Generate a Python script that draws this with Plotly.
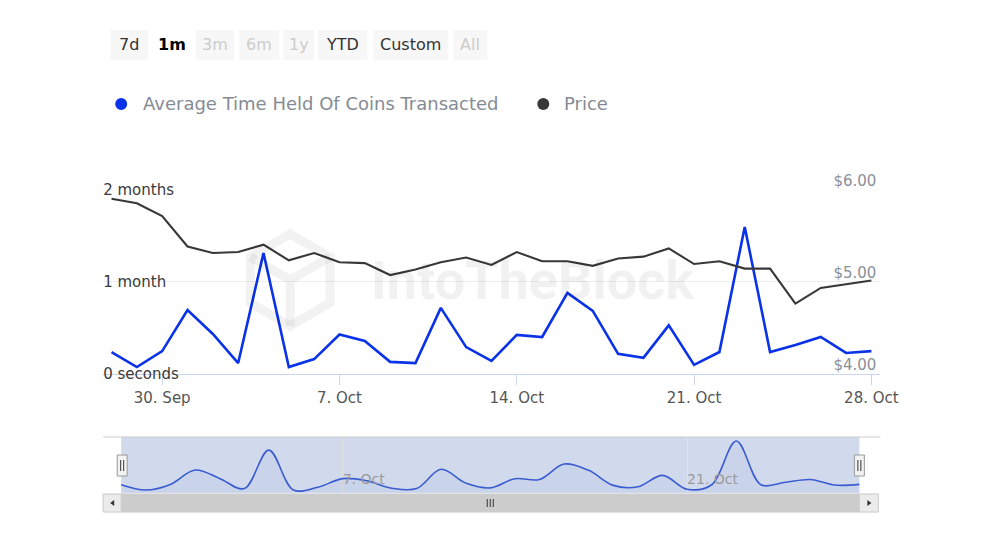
import math
import pandas as pd
import plotly.graph_objects as go

# ---------------- data ----------------
start_date = "2024-09-28"
n_days = 31
dates = pd.date_range(start_date, periods=n_days, freq="D")

# Average time held of coins transacted (days)
avg_time_held_days = [7.0, 2.1, 7.3, 20.7, 12.9, 3.4, 39.3, 2.1, 4.7, 12.7,
                      10.6, 3.8, 3.4, 21.4, 8.6, 4.1, 12.6, 11.9, 26.3, 20.4,
                      6.4, 5.1, 15.7, 2.8, 7.0, 47.8, 7.0, 9.3, 11.9, 6.7, 7.3]
# Price (USD)
price_usd = [5.90, 5.85, 5.71, 5.38, 5.31, 5.32, 5.40, 5.23, 5.31, 5.21,
             5.20, 5.07, 5.13, 5.21, 5.26, 5.18, 5.32, 5.22, 5.22, 5.17,
             5.25, 5.27, 5.36, 5.19, 5.22, 5.14, 5.14, 4.76, 4.93, 4.97, 5.01]

x_tick_dates = ["2024-09-30", "2024-10-07", "2024-10-14", "2024-10-21", "2024-10-28"]
x_tick_text = ["30. Sep", "7. Oct", "14. Oct", "21. Oct", "28. Oct"]
nav_tick_dates = ["2024-10-07", "2024-10-21"]
nav_tick_text = ["7. Oct", "21. Oct"]
left_tick_vals = [0, 30, 60]
left_tick_text = ["0 seconds", "1 month", "2 months"]
right_tick_vals = [4, 5, 6]
right_tick_text = ["$4.00", "$5.00", "$6.00"]
series_names = ["Average Time Held Of Coins Transacted", "Price"]
buttons = ["7d", "1m", "3m", "6m", "1y", "YTD", "Custom", "All"]

# ---------------- geometry helpers (page pixel -> paper) ----------------
OFF = 8                # page body margin
SX = 0.981             # observed horizontal capture scale
W, H = 960, 530        # figure size
def px(x):
    return (x / SX - OFF) / W
def py(y):
    return (H - (y - OFF)) / H

FONT = "DejaVu Sans"
BLUE = "#0a32e8"
DARK = "#383838"

day = pd.Timedelta(days=1)
main_range = [dates[0] - 0.33 * day, dates[-1] + 0.355 * day]
nav_range = [dates[0] - 0.732 * day, dates[-1] + 0.854 * day]

Y_BOT, Y_TOP = 373.5, 189.5
LBL_BOT, LBL_TOP = 400.0, 160.0
ppd = (Y_BOT - Y_TOP) / 60.0
ppp = (Y_BOT - Y_TOP) / 2.0
label_day_range = [(Y_BOT - LBL_BOT) / ppd, (Y_BOT - LBL_TOP) / ppd]
label_price_range = [4 + (Y_BOT - LBL_BOT) / ppp, 4 + (Y_BOT - LBL_TOP) / ppp]

fig = go.Figure()

fig.add_trace(go.Scatter(x=dates, y=avg_time_held_days, mode="lines", name=series_names[0],
                         line=dict(color=BLUE, width=2.6), xaxis="x", yaxis="y",
                         showlegend=False, hoverinfo="skip"))
fig.add_trace(go.Scatter(x=dates, y=price_usd, mode="lines", name=series_names[1],
                         line=dict(color=DARK, width=2.1), xaxis="x", yaxis="y2",
                         showlegend=False, hoverinfo="skip"))
fig.add_trace(go.Scatter(x=[], y=[], xaxis="x", yaxis="y4", showlegend=False, hoverinfo="skip"))
fig.add_trace(go.Scatter(x=[], y=[], xaxis="x", yaxis="y5", showlegend=False, hoverinfo="skip"))
fig.add_trace(go.Scatter(x=dates, y=avg_time_held_days, mode="lines",
                         line=dict(color="#3a5cd0", width=1.6, shape="spline", smoothing=1.0),
                         fill="tozeroy", fillcolor="rgba(51,92,173,0.05)",
                         xaxis="x2", yaxis="y3", showlegend=False, hoverinfo="skip"))

fig.update_layout(
    width=W, height=H,
    margin=dict(l=0, r=0, t=0, b=0),
    paper_bgcolor="white", plot_bgcolor="rgba(0,0,0,0)",
    font=dict(family=FONT, color="#333333"),
    showlegend=False,
    xaxis=dict(domain=[px(103), px(880)], range=main_range, anchor="y",
               tickmode="array", tickvals=x_tick_dates, ticktext=x_tick_text,
               showgrid=False, showline=True, linecolor="#ccd6eb", linewidth=1,
               ticks="outside", ticklen=10, tickcolor="#ccd6eb",
               tickfont=dict(family=FONT, size=15, color="#555555"), zeroline=False),
    yaxis=dict(domain=[py(Y_BOT), py(Y_TOP)], range=[0, 60], anchor="x",
               tickvals=left_tick_vals, showticklabels=False,
               showgrid=True, gridcolor="#eeeeee", zeroline=False, showline=False),
    yaxis2=dict(domain=[py(Y_BOT), py(Y_TOP)], range=[4, 6], overlaying="y", side="right",
                anchor="x", showticklabels=False, showgrid=False, zeroline=False, showline=False),
    # label-only axes: same scale, outside labels placed to read like inside labels
    yaxis4=dict(domain=[py(LBL_BOT), py(LBL_TOP)], range=label_day_range, anchor="free",
                position=px(102), side="right",
                tickvals=left_tick_vals, ticktext=left_tick_text,
                showgrid=False, zeroline=False, showline=False, ticks="",
                tickfont=dict(family=FONT, size=15, color="#3a3a3a")),
    yaxis5=dict(domain=[py(LBL_BOT), py(LBL_TOP)], range=label_price_range, anchor="free",
                position=px(876), side="left", ticklabelshift=-9,
                tickvals=right_tick_vals, ticktext=right_tick_text,
                showgrid=False, zeroline=False, showline=False, ticks="",
                tickfont=dict(family=FONT, size=15, color="#8a9099")),
    xaxis2=dict(domain=[px(103), px(880)], range=nav_range, anchor="y3",
                tickmode="array", tickvals=nav_tick_dates, ticktext=nav_tick_text,
                ticklabelposition="inside right", ticks="", showline=False,
                showgrid=True, gridcolor="#e2e2e2", zeroline=False,
                tickfont=dict(family=FONT, size=14, color="#9a9a9a")),
    yaxis3=dict(domain=[py(493), py(437)], range=[-0.7, 51.5], anchor="x2",
                showticklabels=False, showgrid=False, zeroline=False, showline=False),
)

shapes = []
annotations = []

btn_boxes = [(110, 148), (152, 192), (196, 234), (239, 279), (283, 314),
             (318, 367), (373, 448), (453, 487)]
btn_colors = ["#333333", "#000000", "#cccccc", "#cccccc", "#cccccc", "#333333", "#333333", "#cccccc"]
for label, (x0, x1), col in zip(buttons, btn_boxes, btn_colors):
    bg = "#ffffff" if label == "1m" else "#f7f7f7"
    shapes.append(dict(type="rect", xref="paper", yref="paper", x0=px(x0), x1=px(x1),
                       y0=py(60), y1=py(30), fillcolor=bg, line=dict(width=0), layer="below"))
    txt = "<b>%s</b>" % label if label == "1m" else label
    annotations.append(dict(text=txt, xref="paper", yref="paper", x=px((x0 + x1) / 2), y=py(45),
                            xanchor="center", yanchor="middle", showarrow=False,
                            font=dict(family=FONT, size=16, color=col)))

legend_items = [(121, 141, BLUE, series_names[0]), (543, 562, DARK, series_names[1])]
for cx, tx, col, name in legend_items:
    r = 6
    shapes.append(dict(type="circle", xref="paper", yref="paper", x0=px(cx - r), x1=px(cx + r),
                       y0=py(104 + r), y1=py(104 - r), fillcolor=col, line=dict(width=0)))
    annotations.append(dict(text=name, xref="paper", yref="paper", x=px(tx), y=py(104),
                            xanchor="left", yanchor="middle", showarrow=False,
                            font=dict(family=FONT, size=18, color="#858b94")))

annotations.append(dict(text="<b>IntoTheBlock</b>", xref="paper", yref="paper", x=px(533), y=py(280),
                        xanchor="center", yanchor="middle", showarrow=False,
                        font=dict(family="Roboto", size=54, color="rgba(0,0,0,0.055)")))
hx, hy, hr = 290, 280, 46
pts = []
for k in range(6):
    a = math.radians(90 + 60 * k)
    pts.append((hx + hr * math.cos(a), hy - hr * math.sin(a)))
path = "M " + " L ".join("%f,%f" % (px(a), py(b)) for a, b in pts) + " Z"
shapes.append(dict(type="path", xref="paper", yref="paper", path=path,
                   line=dict(color="rgba(0,0,0,0.05)", width=9), fillcolor="rgba(0,0,0,0)"))
inner = "M %f,%f L %f,%f L %f,%f M %f,%f L %f,%f" % (
    px(pts[1][0]), py(pts[1][1]), px(hx), py(hy), px(pts[5][0]), py(pts[5][1]),
    px(hx), py(hy), px(pts[3][0]), py(pts[3][1]))
shapes.append(dict(type="path", xref="paper", yref="paper", path=inner,
                   line=dict(color="rgba(0,0,0,0.05)", width=9)))

shapes.append(dict(type="rect", xref="paper", yref="paper", x0=px(121), x1=px(859),
                   y0=py(493), y1=py(437), fillcolor="rgba(102,133,194,0.3)",
                   line=dict(width=0), layer="below"))
shapes.append(dict(type="line", xref="paper", yref="paper", x0=px(103), x1=px(880),
                   y0=py(437), y1=py(437), line=dict(color="#cccccc", width=1)))

shapes.append(dict(type="rect", xref="paper", yref="paper", x0=px(103), x1=px(878),
                   y0=py(512), y1=py(494), fillcolor="#f2f2f2", line=dict(color="#f2f2f2", width=1)))
shapes.append(dict(type="rect", xref="paper", yref="paper", x0=px(121), x1=px(859),
                   y0=py(512), y1=py(494), fillcolor="#cccccc", line=dict(color="#cccccc", width=1)))
for bx0, bx1 in [(103, 121), (859, 878)]:
    shapes.append(dict(type="rect", xref="paper", yref="paper", x0=px(bx0), x1=px(bx1),
                       y0=py(512), y1=py(494), fillcolor="#ebebeb", line=dict(color="#cccccc", width=1)))
shapes.append(dict(type="path", xref="paper", yref="paper",
                   path="M %f,%f L %f,%f L %f,%f Z" % (px(110), py(503), px(114), py(500), px(114), py(506)),
                   fillcolor="#333333", line=dict(width=0)))
shapes.append(dict(type="path", xref="paper", yref="paper",
                   path="M %f,%f L %f,%f L %f,%f Z" % (px(871), py(503), px(867), py(500), px(867), py(506)),
                   fillcolor="#333333", line=dict(width=0)))
for gx in (487, 490, 493):
    shapes.append(dict(type="line", xref="paper", yref="paper", x0=px(gx), x1=px(gx),
                       y0=py(507), y1=py(499), line=dict(color="#333333", width=1)))

for hcx in (122, 859):
    shapes.append(dict(type="rect", xref="paper", yref="paper", x0=px(hcx - 5), x1=px(hcx + 5),
                       y0=py(476), y1=py(455), fillcolor="#f2f2f2", line=dict(color="#999999", width=1)))
    for dx in (-1.5, 1.5):
        shapes.append(dict(type="line", xref="paper", yref="paper", x0=px(hcx + dx), x1=px(hcx + dx),
                           y0=py(471), y1=py(460), line=dict(color="#333333", width=1)))

fig.update_layout(shapes=shapes, annotations=annotations)
fig.write_html("out.html")
